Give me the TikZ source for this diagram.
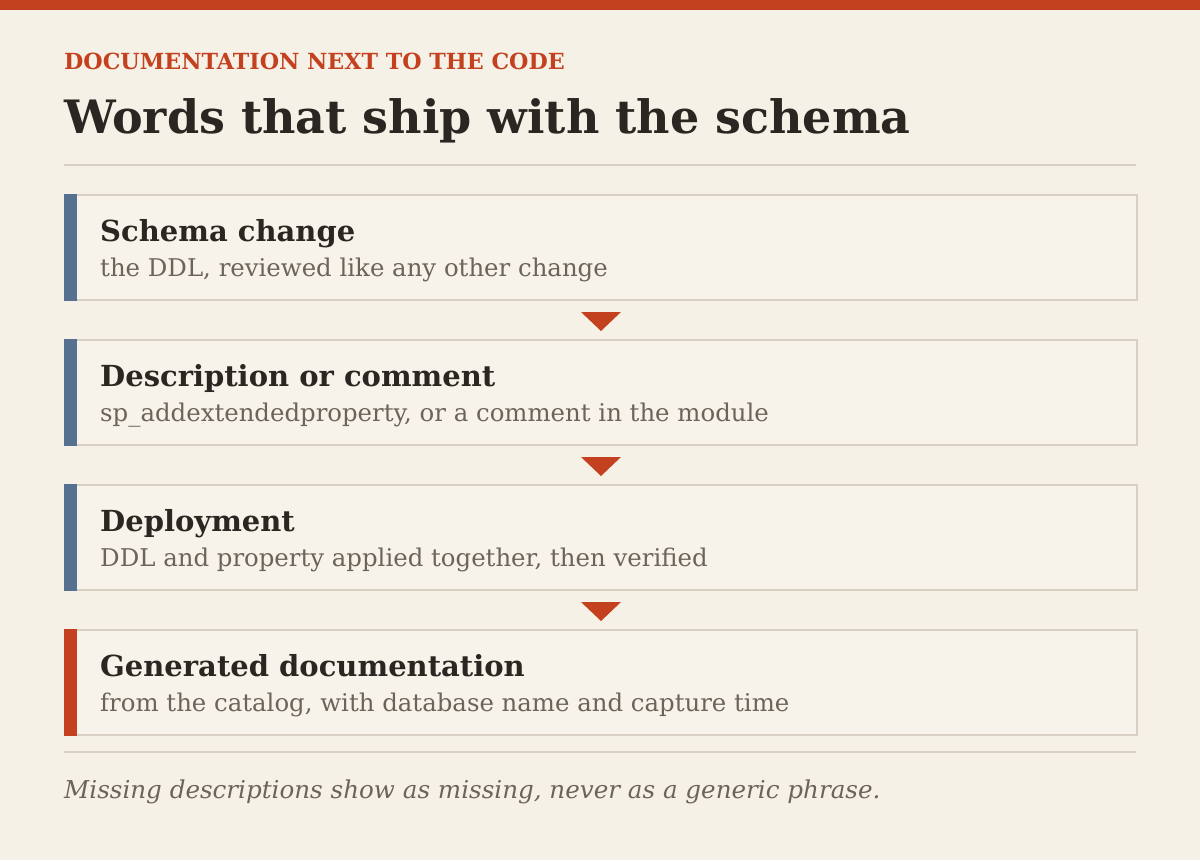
\documentclass[tikz,border=0pt]{standalone}
\usepackage{fontspec}
\setmainfont{DejaVu Serif}
\usetikzlibrary{calc}
\definecolor{bg}{HTML}{F6F1E7}
\definecolor{boxbg}{HTML}{F7F3EA}
\definecolor{accent}{HTML}{C4411F}
\definecolor{ink}{HTML}{2A2723}
\definecolor{muted}{HTML}{6B6459}
\definecolor{rulec}{HTML}{D8D0C4}
\definecolor{slate}{HTML}{56718F}
\tikzset{
  stepbox/.style={draw=rulec, line width=2pt, fill=boxbg, minimum width=1072pt, minimum height=105pt, inner sep=0pt, anchor=north west},
  steptitle/.style={anchor=base west, inner sep=0pt, text=ink, font=\bfseries\fontsize{29}{33}\selectfont},
  stepsub/.style={anchor=base west, inner sep=0pt, text=muted, font=\fontsize{24.4}{28}\selectfont},
  flowtip/.style={fill=accent},
}
\newcommand{\flowstep}[5]{%
  \node[stepbox] (#1) at (64,#2) {};
  \fill[#3] (#1.north west) rectangle ($(#1.south west)+(13,0)$);
  \node[steptitle] (#1t) at ($(#1.north west)+(36,47)$) {#4};
  \node[stepsub] (#1s) at ($(#1.north west)+(36,82)$) {#5};
}
\begin{document}
\begin{tikzpicture}[x=1pt,y=-1pt]
\useasboundingbox (0,0) rectangle (1200,860);
\fill[bg] (0,0) rectangle (1200,860);
\fill[accent] (0,0) rectangle (1200,10);
\node[anchor=base west, inner sep=0pt, text=accent, font=\bfseries\fontsize{22.2}{26}\selectfont] (eyebrow) at (64,69) {DOCUMENTATION NEXT TO THE CODE};
\node[anchor=base west, inner sep=0pt, text=ink, font=\bfseries\fontsize{46}{52}\selectfont] (title) at (64,133) {Words that ship with the schema};
\coordinate (r1a) at (64,165);
\coordinate (r1b) at (1136,165);
\draw[rulec, line width=2pt] (r1a) -- (r1b);
\flowstep{b1}{194}{slate}{Schema change}{the DDL, reviewed like any other change}
\flowstep{b2}{339}{slate}{Description or comment}{sp\_addextendedproperty, or a comment in the module}
\flowstep{b3}{484}{slate}{Deployment}{DDL and property applied together, then verified}
\flowstep{b4}{629}{accent}{Generated documentation}{from the catalog, with database name and capture time}
\foreach \a/\b in {b1/b2,b2/b3,b3/b4}{
  \fill[flowtip] ($(\a.south)+(-20,11)$) -- ($(\a.south)+(20,11)$) -- ($(\a.south)+(0,30)$) -- cycle;
}
\coordinate (r2a) at (64,752);
\coordinate (r2b) at (1136,752);
\draw[rulec, line width=2pt] (r2a) -- (r2b);
\node[anchor=base west, inner sep=0pt, text=muted, font=\itshape\fontsize{24.6}{28}\selectfont] (foot) at (64,798) {Missing descriptions show as missing, never as a generic phrase.};
\end{tikzpicture}
\end{document}
